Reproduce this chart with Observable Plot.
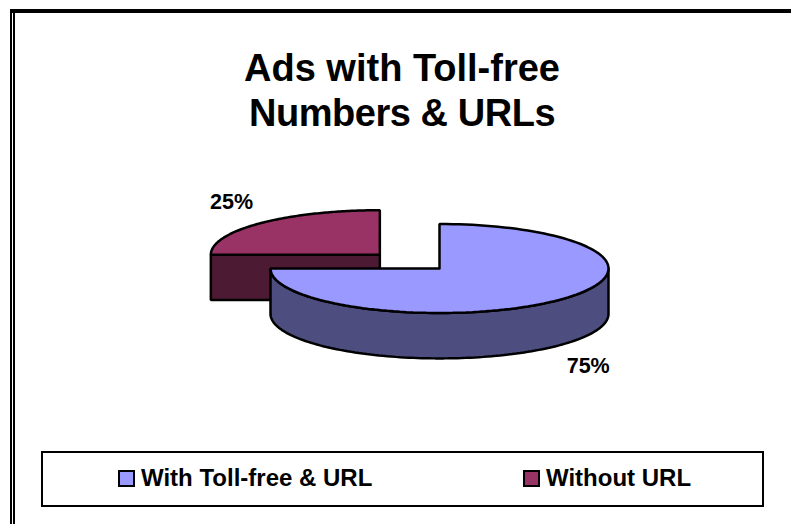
<!DOCTYPE html>
<html><head><meta charset="utf-8">
<script src="https://cdn.jsdelivr.net/npm/d3@7"></script>
<script src="https://cdn.jsdelivr.net/npm/@observablehq/plot@0.6"></script>
<style>
html,body{margin:0;padding:0;background:#fff;}
body{width:791px;height:524px;position:relative;overflow:hidden;font-family:"Liberation Sans",Arial,sans-serif;color:#000;}
#top{position:absolute;left:10px;top:9px;right:0;height:4px;background:#000;}
#l1{position:absolute;left:10px;top:9px;width:2px;bottom:0;background:#000;}
#l2{position:absolute;left:13px;top:9px;width:2px;bottom:0;background:#000;}
#title{position:absolute;left:2px;width:800px;top:46px;text-align:center;font-weight:bold;font-size:38px;line-height:45px;}
#title span{letter-spacing:-0.45px;}
#chart{position:absolute;left:0;top:150px;}
#legend{position:absolute;left:41px;top:451px;width:723px;height:56px;box-sizing:border-box;border:2px solid #000;}
.item{position:absolute;top:0;height:50px;display:flex;align-items:center;font-weight:bold;font-size:24px;white-space:nowrap;}
.sw{display:inline-block;box-sizing:border-box;width:17px;height:17px;border:2px solid #000;margin-right:6px;}
</style></head><body>
<div id="top"></div><div id="l1"></div><div id="l2"></div>
<div id="title">Ads with Toll-free<br><span>Numbers &amp; URLs</span></div>
<div id="chart"></div>
<div id="legend"></div>
<script>
const categories = ["With Toll-free & URL", "Without URL"];
const shares = [75, 25];
const topColors = ["#9999FF", "#993366"];
const sideColors = ["#4D4D80", "#4D1A33"];

const arcs = d3.pie().sort(null)(shares);
// offset of each exploded slice and extrusion depth, in pie radii
const offsets = [[0, 0], [-0.353, 0.31]];
const depth = 1.02;
const sweep = (a0, a1) => d3.range(0, 121).map(i => a0 + (a1 - a0) * i / 120);
const rim = (a, o, dz = 0) => ({x: o[0] + Math.sin(a), y: o[1] + Math.cos(a) - dz});

function topFace(i) {
  const o = offsets[i], A = arcs[i];
  return [{x: o[0], y: o[1]}, ...sweep(A.startAngle, A.endAngle).map(a => rim(a, o)), {x: o[0], y: o[1]}];
}
function sideFace(i) {
  const o = offsets[i], A = arcs[i];
  if (i === 0) {
    const s = sweep(Math.PI / 2, A.endAngle);
    const pts = [...s.map(a => rim(a, o)), ...s.slice().reverse().map(a => rim(a, o, depth))];
    return [...pts, pts[0]];
  }
  // the cut face of the back slice, seen from the front
  const c = {x: o[0], y: o[1]}, l = rim(A.startAngle, o), cb = {x: o[0], y: o[1] - depth}, lb = rim(A.startAngle, o, depth);
  return [c, l, lb, cb, c];
}
const face = (pts, fill) => Plot.line(pts, {x: "x", y: "y", fill, stroke: "#000", strokeWidth: 2.5, strokeLinejoin: "miter", curve: "linear"});

const labels = [
  {x: 0.88, y: -2.2, text: d3.format(".0%")(shares[0] / d3.sum(shares))},
  {x: -1.23, y: 1.5, text: d3.format(".0%")(shares[1] / d3.sum(shares))}
];

const plot = Plot.plot({
  width: 791, height: 240, margin: 0, axis: null,
  x: {type: "linear", domain: [-1, 1], range: [270, 608]},
  y: {type: "linear", domain: [1, -1], range: [118 - 44.5, 118 + 44.5]},
  marks: [
    face(sideFace(1), sideColors[1]),
    face(topFace(1), topColors[1]),
    face(sideFace(0), sideColors[0]),
    face(topFace(0), topColors[0]),
    Plot.text(labels, {x: "x", y: "y", text: "text", fontWeight: "bold", fontSize: 21.5, fontFamily: "Liberation Sans", fill: "#000"})
  ]
});
document.getElementById("chart").appendChild(plot);

const lefts = [75, 480];
const legend = document.getElementById("legend");
categories.forEach((c, i) => {
  const it = document.createElement("div");
  it.className = "item"; it.style.left = lefts[i] + "px";
  const s = document.createElement("span"); s.className = "sw"; s.style.background = topColors[i];
  it.appendChild(s); it.appendChild(document.createTextNode(c));
  legend.appendChild(it);
});
</script>
</body></html>
